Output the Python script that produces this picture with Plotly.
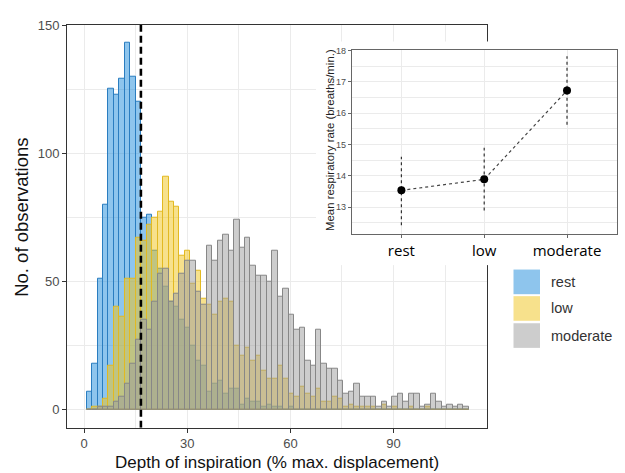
import plotly.graph_objects as go

# ---------------- data ----------------
bin_start = 0.7      # left edge of first histogram bin (% max. displacement)
bin_width = 1.589    # histogram bin width

rest_counts = [7, 18, 51, 80, 125, 123, 129, 143, 130, 120,
               75, 76, 62, 55, 48, 42, 40, 35, 32, 25,
               19, 17, 7, 10, 11, 6, 8, 8, 2, 4,
               3, 3, 1, 2, 1, 1, 0, 1, 0, 0,
               0, 0, 0, 0, 0, 0, 0, 0, 0, 0,
               0, 0, 0, 0, 0, 0, 0, 0, 0, 0,
               0, 0, 0, 0, 0, 0, 0, 0, 0, 0]
low_counts = [0, 1, 1, 4, 17, 40, 36, 51, 51, 67,
              66, 72, 75, 77, 91, 81, 79, 60, 62, 49,
              54, 43, 41, 37, 42, 43, 42, 25, 21, 24,
              19, 21, 15, 12, 12, 17, 12, 6, 5, 9,
              6, 5, 8, 3, 3, 5, 4, 1, 2, 1,
              1, 1, 1, 0, 2, 0, 1, 0, 0, 1,
              0, 0, 1, 0, 0, 0, 0, 0, 0, 0]
moderate_counts = [0, 0, 1, 1, 1, 3, 5, 10, 18, 27,
                   35, 31, 42, 53, 55, 42, 45, 53, 58, 58,
                   46, 41, 64, 58, 66, 68, 62, 74, 63, 67,
                   56, 52, 52, 50, 62, 44, 47, 37, 31, 32,
                   19, 17, 31, 18, 16, 16, 11, 6, 7, 10,
                   5, 5, 5, 1, 3, 1, 5, 6, 3, 6,
                   6, 1, 2, 6, 3, 1, 2, 1, 2, 1]
rest_threshold = 16.5   # dashed reference line

x_ticks = [0, 30, 60, 90]
y_ticks = [0, 50, 100, 150]

intensity = ["rest", "low", "moderate"]
mean_rate = [13.54, 13.89, 16.72]
rate_lower = [12.43, 12.90, 15.63]
rate_upper = [14.61, 14.90, 17.81]

# ---------------- figure ----------------
W, H = 625, 473
def px(xp):
    return xp / W
def py(yp):
    return (H - yp) / H

centers = [bin_start + bin_width * (i + 0.5) for i in range(len(rest_counts))]

series = [
    ("rest", rest_counts, "rgba(30,140,220,0.5)", "#2A7DC0"),
    ("low", low_counts, "rgba(240,196,25,0.5)", "#E2B921"),
    ("moderate", moderate_counts, "rgba(155,155,155,0.5)", "#878787"),
]

fig = go.Figure()
for name, counts, fill, edge in series:
    fig.add_trace(go.Bar(
        x=centers, y=counts, width=bin_width, name=name,
        marker=dict(color=fill, line=dict(color=edge, width=1)),
        xaxis="x", yaxis="y", showlegend=False))

fig.add_trace(go.Scatter(
    x=[rest_threshold, rest_threshold], y=[-7.15, 150.15], mode="lines",
    line=dict(color="black", width=2.6, dash="7px,4px"),
    xaxis="x", yaxis="y", showlegend=False, hoverinfo="skip"))

# cover subplot (white background behind inset)
fig.add_trace(go.Scatter(x=[None], y=[None], xaxis="x2", yaxis="y2",
                         showlegend=False, hoverinfo="skip"))

# inset: error bars, connecting line, means
for cat, lo, hi in zip(intensity, rate_lower, rate_upper):
    fig.add_trace(go.Scatter(
        x=[cat, cat], y=[lo, hi], mode="lines",
        line=dict(color="#333333", width=1.2, dash="3px,3px"),
        xaxis="x3", yaxis="y3", showlegend=False, hoverinfo="skip"))
fig.add_trace(go.Scatter(
    x=intensity, y=mean_rate, mode="lines",
    line=dict(color="#444444", width=1.2, dash="3px,3px"),
    xaxis="x3", yaxis="y3", showlegend=False))
fig.add_trace(go.Scatter(
    x=intensity, y=mean_rate, mode="markers",
    marker=dict(color="black", size=8),
    xaxis="x3", yaxis="y3", showlegend=False))

grid = "#EBEBEB"
axfont = dict(family="Liberation Sans, Arial, sans-serif", size=13, color="#4D4D4D")

fig.update_layout(
    width=W, height=H,
    margin=dict(l=0, r=0, t=0, b=0),
    paper_bgcolor="white", plot_bgcolor="white",
    barmode="overlay", bargap=0,
    font=dict(family="Liberation Sans, Arial, sans-serif"),
    xaxis=dict(domain=[px(67), px(487)], range=[-5.0, 117.2], anchor="y",
               tickvals=x_ticks, showgrid=True, gridcolor=grid, gridwidth=1,
               minor=dict(tickvals=[15, 45, 75, 105], showgrid=True,
                          gridcolor=grid, gridwidth=0.6, ticks=""),
               showline=True, mirror=True, linecolor="#333333", linewidth=1,
               ticks="outside", ticklen=4, tickcolor="#333333",
               tickfont=axfont, zeroline=False),
    yaxis=dict(domain=[py(427), py(18)], range=[-7.15, 150.15], anchor="x",
               tickvals=y_ticks, showgrid=True, gridcolor=grid, gridwidth=1,
               minor=dict(tickvals=[25, 75, 125], showgrid=True,
                          gridcolor=grid, gridwidth=0.6, ticks=""),
               showline=True, mirror=True, linecolor="#333333", linewidth=1,
               ticks="outside", ticklen=4, tickcolor="#333333",
               tickfont=axfont, zeroline=False),
    xaxis2=dict(domain=[px(316), 1.0], range=[0, 1], anchor="y2",
                showgrid=False, showticklabels=False, showline=False,
                zeroline=False, ticks=""),
    yaxis2=dict(domain=[py(262), py(35)], range=[0, 1], anchor="x2",
                showgrid=False, showticklabels=False, showline=False,
                zeroline=False, ticks=""),
    xaxis3=dict(domain=[px(351.7), px(616.7)], anchor="y3",
                type="category", categoryorder="array", categoryarray=intensity,
                range=[-0.6, 2.6], showgrid=True, gridcolor=grid, gridwidth=1,
                showline=True, mirror=True, linecolor="#666666", linewidth=1,
                ticks="outside", ticklen=3, tickcolor="#666666",
                tickfont=dict(family="Open Sans, sans-serif", size=15,
                              color="black", weight=400),
                zeroline=False),
    yaxis3=dict(domain=[py(230.7), py(44)], anchor="x3",
                range=[12.14, 18.0], tickvals=[13, 14, 15, 16, 17, 18],
                showgrid=True, gridcolor=grid, gridwidth=1,
                minor=dict(tickvals=[12.5, 13.5, 14.5, 15.5, 16.5, 17.5],
                           showgrid=True, gridcolor=grid, gridwidth=0.6,
                           ticks=""),
                showline=True, mirror=True, linecolor="#666666", linewidth=1,
                ticks="outside", ticklen=3, tickcolor="#666666",
                tickfont=dict(family="Liberation Sans, Arial, sans-serif",
                              size=9, color="#4D4D4D"),
                zeroline=False),
)

annotations = [
    dict(text="Depth of inspiration (% max. displacement)", x=px(277), y=py(462),
         xref="paper", yref="paper", showarrow=False, xanchor="center", yanchor="middle",
         font=dict(size=17, color="#111111")),
    dict(text="No. of observations", x=px(22), y=py(214), textangle=-90,
         xref="paper", yref="paper", showarrow=False, xanchor="center", yanchor="middle",
         font=dict(size=18.5, color="#111111")),
    dict(text="Mean respiratory rate (breaths/min.)", x=px(330), y=py(135), textangle=-90,
         xref="paper", yref="paper", showarrow=False, xanchor="center", yanchor="middle",
         font=dict(size=11.4, color="#222222")),
]

shapes = []
legend_rows = [(279, series[0]), (306, series[1]), (333.5, series[2])]
for yc, (name, _, fill, _) in legend_rows:
    shapes.append(dict(type="rect", xref="paper", yref="paper",
                       x0=px(513.5), x1=px(540), y0=py(yc + 12.5), y1=py(yc - 12.5),
                       fillcolor=fill, line=dict(width=0), layer="above"))
    annotations.append(dict(text=name, x=px(549), y=py(yc), xref="paper", yref="paper",
                            showarrow=False, xanchor="left", yanchor="middle",
                            font=dict(size=14.5, color="#333333")))

fig.update_layout(annotations=annotations, shapes=shapes)

fig.write_html("out.html",
               config={"displayModeBar": False},
               post_script="document.body.style.margin='0px';"
                           "document.body.style.overflow='hidden';")
